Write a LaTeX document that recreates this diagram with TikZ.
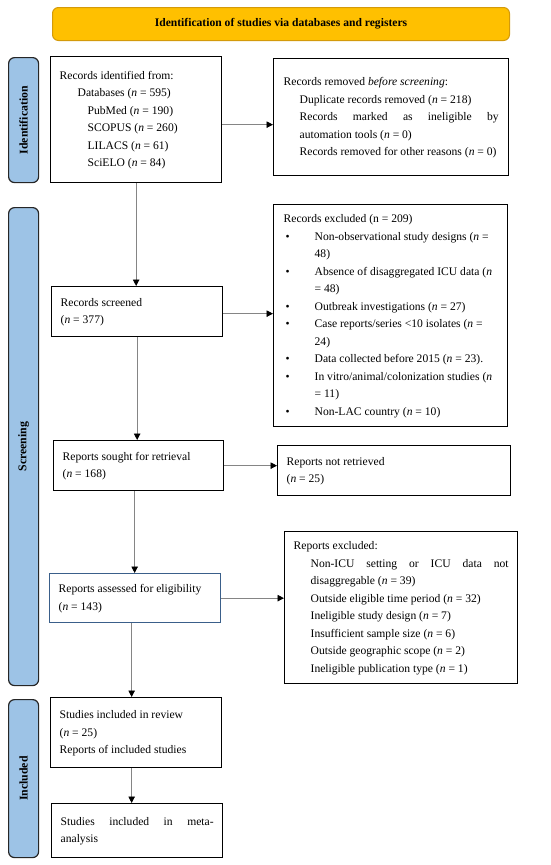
\documentclass[tikz,border=0pt]{standalone}
\usepackage{fontspec}
\setmainfont{Liberation Serif}
\usetikzlibrary{arrows.meta}
\definecolor{gold}{HTML}{FFC000}
\definecolor{goldb}{HTML}{D49A0A}
\definecolor{sideblue}{HTML}{9DC3E6}
\definecolor{lineg}{HTML}{858585}
\definecolor{boxblue}{HTML}{3A5F8A}
\newcommand\bt[2]{\makebox[#1][l]{\begin{tabular}{@{}l@{}}#2\end{tabular}}}
\newcommand\bl[1]{\makebox[31pt][l]{\hspace{2pt}\textbullet}#1}
\newcommand\itn{\textit{n}}
\begin{document}
\begin{tikzpicture}[x=1pt,y=-1pt,
  box/.style={draw=black, line width=1.3pt, fill=white, inner xsep=9pt, inner ysep=0pt, anchor=north west, font=\fontsize{11.6}{17.5}\selectfont},
  side/.style={draw=black!85, line width=1.2pt, fill=sideblue, rounded corners=6pt, anchor=north west, minimum width=30pt, inner sep=0pt, font=\fontsize{11.8}{13}\selectfont\bfseries},
  arr/.style={draw=lineg, line width=0.9pt, -{Triangle[length=6.5pt,width=6.5pt,color=black]}}]
\useasboundingbox (0,0) rectangle (550,865);
\fill[white] (0,0) rectangle (550,865);

\node[draw=goldb, fill=gold, rounded corners=6pt, line width=1pt, minimum width=457pt, minimum height=33pt, anchor=north west, font=\fontsize{11.6}{12}\selectfont\bfseries] (hdr) at (52,7) {Identification of studies via databases and registers};

\node[side, minimum height=125pt] (s1) at (8,57) {\rotatebox{90}{Identification}};
\node[side, minimum height=478pt] (s2) at (8,207) {\rotatebox{90}{Screening}};
\node[side, minimum height=158pt] (s3) at (8,699) {\rotatebox{90}{Included}};

\node[box, minimum width=171pt, minimum height=126pt] (b1) at (50,56) {\bt{153pt}{Records identified from:\\
\hspace*{18pt}Databases (\itn{} = 595)\\
\hspace*{28pt}PubMed (\itn{} = 190)\\
\hspace*{28pt}SCOPUS (\itn{} = 260)\\
\hspace*{28pt}LILACS (\itn{} = 61)\\
\hspace*{28pt}SciELO (\itn{} = 84)}};

\node[box, inner xsep=10pt, minimum width=235pt, minimum height=117pt] (b2) at (273,58) {\bt{215pt}{Records removed \textit{before screening}:\\
\hspace*{16pt}Duplicate records removed (\itn{} = 218)\\
\hspace*{16pt}\makebox[199pt][s]{Records marked as ineligible by}\\
\hspace*{16pt}automation tools (\itn{} = 0)\\
\hspace*{16pt}Records removed for other reasons (\itn{} = 0)}};

\node[box, minimum width=171pt, minimum height=50pt] (b3) at (51,286) {\bt{153pt}{Records screened\\(\itn{} = 377)}};

\node[box, inner xsep=10pt, minimum width=234pt, minimum height=222pt] (b4) at (273,204) {\bt{214pt}{Records excluded (n = 209)\\
\bl{Non-observational study designs (\itn{} =}\\
\hspace*{31pt}48)\\
\bl{Absence of disaggregated ICU data (\itn}\\
\hspace*{31pt}= 48)\\
\bl{Outbreak investigations (\itn{} = 27)}\\
\bl{Case reports/series <10 isolates (\itn{} =}\\
\hspace*{31pt}24)\\
\bl{Data collected before 2015 (\itn{} = 23).}\\
\bl{In vitro/animal/colonization studies (\itn}\\
\hspace*{31pt}= 11)\\
\bl{Non-LAC country (\itn{} = 10)}}};

\node[box, minimum width=170pt, minimum height=50pt] (b5) at (53,440) {\bt{152pt}{Reports sought for retrieval\\(\itn{} = 168)}};

\node[box, minimum width=233pt, minimum height=50pt] (b6) at (277,445) {\bt{215pt}{Reports not retrieved\\(\itn{} = 25)}};

\node[box, draw=boxblue, minimum width=171pt, minimum height=49pt] (b7) at (49,573) {\bt{153pt}{Reports assessed for eligibility\\(\itn{} = 143)}};

\node[box, minimum width=233pt, minimum height=152pt] (b8) at (284,531) {\bt{215pt}{Reports excluded:\\
\hspace*{17pt}\makebox[198pt][s]{Non-ICU setting or ICU data not}\\
\hspace*{17pt}disaggregable (\itn{} = 39)\\
\hspace*{17pt}Outside eligible time period (\itn{} = 32)\\
\hspace*{17pt}Ineligible study design (\itn{} = 7)\\
\hspace*{17pt}Insufficient sample size (\itn{} = 6)\\
\hspace*{17pt}Outside geographic scope (\itn{} = 2)\\
\hspace*{17pt}Ineligible publication type (\itn{} = 1)}};

\node[box, minimum width=171pt, minimum height=70pt] (b9) at (50,697) {\bt{153pt}{Studies included in review\\(\itn{} = 25)\\Reports of included studies}};

\node[box, minimum width=171pt, minimum height=54pt] (b10) at (51,803) {\bt{153pt}{\makebox[153pt][s]{Studies included in meta-}\\analysis}};

\draw[arr] ([yshift=-5pt]b1.east) -- ([yshift=-5pt]b1.east -| b2.west);
\draw[arr] (b1.south) -- (b1.south |- b3.north);
\draw[arr] ([yshift=-2pt]b3.east) -- ([yshift=-2pt]b3.east -| b4.west);
\draw[arr] (b3.south) -- (b3.south |- b5.north);
\draw[arr] (b5.east) -- (b5.east -| b6.west);
\draw[arr] ([xshift=-4pt]b5.south) -- ([xshift=-4pt]b5.south |- b7.north);
\draw[arr] (b7.east) -- (b7.east -| b8.west);
\draw[arr] ([xshift=-3.5pt]b7.south) -- ([xshift=-3.5pt]b7.south |- b9.north);
\draw[arr] ([xshift=-4.5pt]b9.south) -- ([xshift=-4.5pt]b9.south |- b10.north);
\end{tikzpicture}
\end{document}
